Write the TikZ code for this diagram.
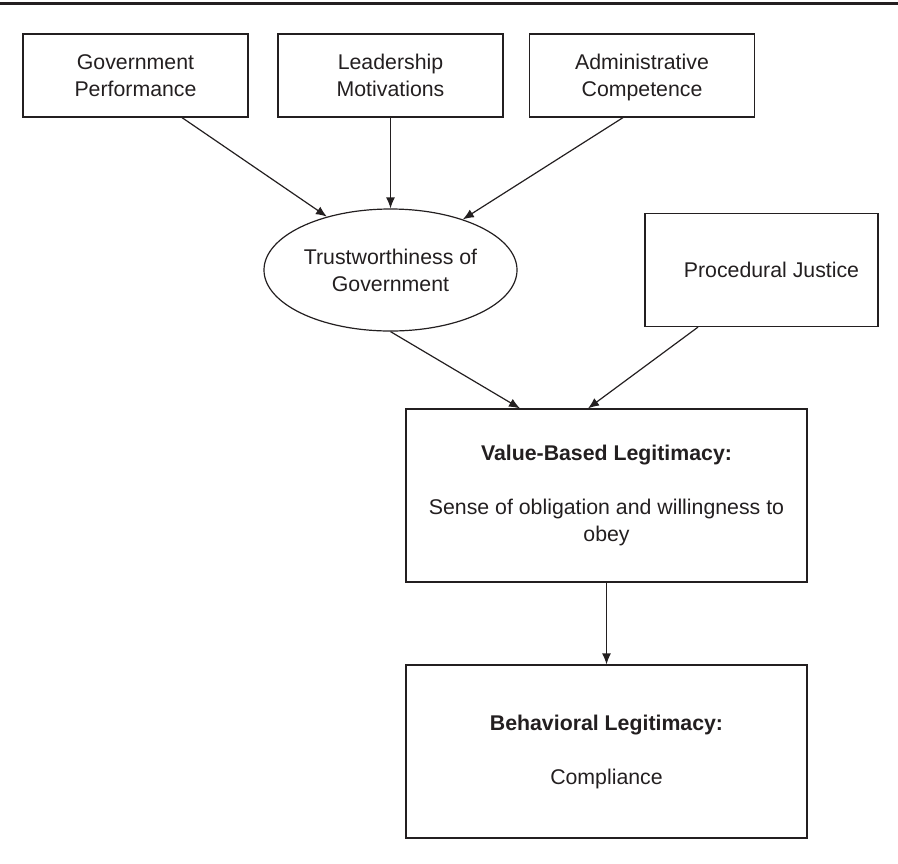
\documentclass[tikz,border=0pt]{standalone}
\usepackage{fontspec}
\setmainfont{Liberation Sans}
\usetikzlibrary{arrows.meta}
\usetikzlibrary{shapes.geometric}
\usetikzlibrary{positioning}
\definecolor{ink}{HTML}{231F20}

\begin{document}
\begin{tikzpicture}
[x=0.5pt,y=-0.5pt,on grid,>={Latex[length=5.5pt,width=4.5pt]},ink,line width=0.6pt,%
  every node/.style={align=center,inner sep=0pt},
  factor/.style={draw,rectangle,minimum width=112.5pt,minimum height=41.5pt},
  judge/.style={draw,ellipse,minimum width=126.5pt,minimum height=61pt},
  result/.style={draw,rectangle,minimum width=200.5pt,minimum height=86.5pt}]
\fontsize{10.65}{13.5}\selectfont
\useasboundingbox (0,0) rectangle (898,863);
%% rule on top
\draw[line width=1.5pt] (0,3) -- (898,3);
%% nodes
\node[factor] (lead) at (390.5,75.5) {Leadership\\Motivations};
\node[factor] (perf) [left=127.5pt of lead] {Government\\Performance};
\node[factor] (admin) [right=125.75pt of lead] {Administrative\\\smash{Competence}};
\node[judge] (trust) [below=97.25pt of lead] {Trustworthiness of\\Government};
\node[factor,minimum width=116.5pt,minimum height=56.5pt] (proc) [right=185.5pt of trust] {\hspace*{10pt}Procedural Justice};
\node[result] (value) [below right=112.75pt and 108pt of trust]
  {\textbf{Value-Based Legitimacy:}\\[13.5pt]Sense of obligation and willingness to\\obey};
\node[result] (behav) [below=128pt of value]
  {\textbf{Behavioral Legitimacy:}\\[13.5pt]Compliance};
%% edges
\path[->]
([xshift=23.25pt]perf.south) edge (trust.140)
(lead) edge (trust)
([xshift=-9.5pt]admin.south) edge (trust.35)
(trust.south) edge ([xshift=-43.25pt]value.north)
([xshift=-31.75pt]proc.south) edge ([xshift=-9.25pt]value.north)
(value) edge (behav);
\end{tikzpicture}
\end{document}
